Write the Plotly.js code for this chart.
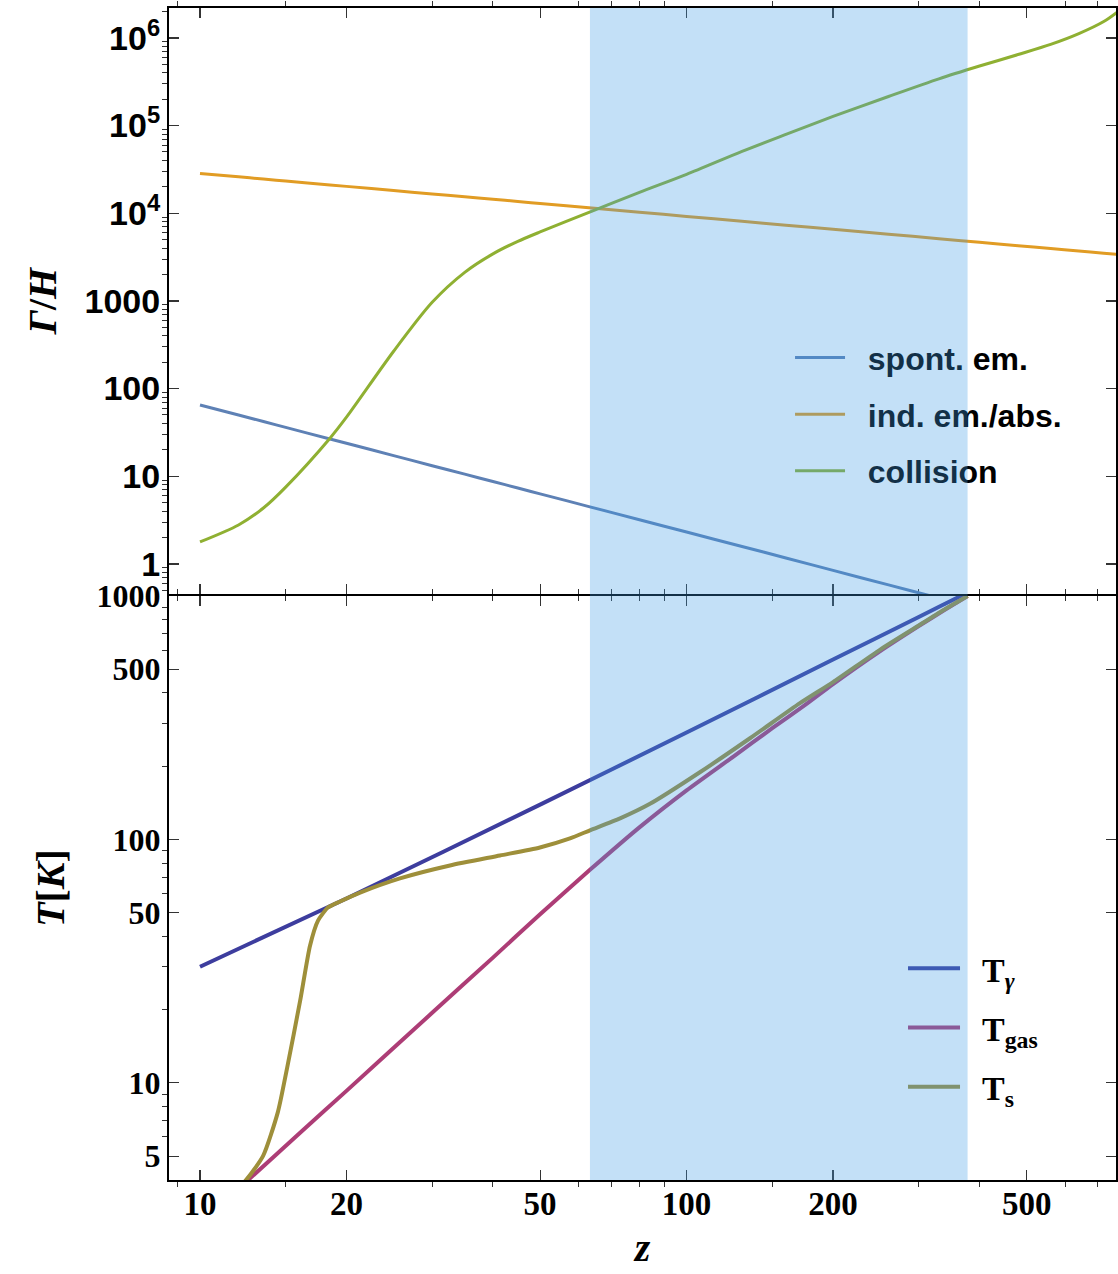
<!DOCTYPE html>
<html><head><meta charset="utf-8">
<script src="https://cdn.plot.ly/plotly-3.0.1.min.js"></script>
<style>html,body{margin:0;padding:0;background:#fff}#chart{width:1118px;height:1274px}</style>
</head><body><div id="chart"></div>
<script>
// ---- top panel: rates Gamma/H versus redshift z ----
const zTop = [10,12,13.5,15,18.5,20,25,30,35,40,45,50,63,80,100,130,160,200,260,330,400,480,560,640,720,770];
const spontEm = [65,49.9,42.1,36.1,26.6,23.8,17.2,13.2,10.57,8.71,7.34,6.30,4.51,3.19,2.31,1.58,1.17,0.844,0.577,0.408,0.309,0.237,0.190,0.156,0.132,0.119];
const indEmAbs = [28450,26000,24560,23300,21050,20250,18150,16600,15400,14430,13620,12930,11540,10270,9207,8100,7313,6555,5765,5130,4666,4268,3958,3707,3500,3386];
const collision = [1.78,2.78,4.34,7.52,27.2,47.2,266.7,964.5,2119,3443,4779,6117,10230,17290,27730,50700,79300,127000,214700,341500,477500,645700,842000,1118000,1536000,1994000];
const topNames = ['\u00a0\u00a0spont. em.','\u00a0\u00a0ind. em./abs.','\u00a0\u00a0collision'];

// ---- bottom panel: temperatures ----
const zGamma = [10,20,50,100,200,300,366,400];
const tGamma = [30.0,57.2,139,275,548,820,1000,1093];
const zGas = [10,12.49,16.06,20,30,40,50,63.3,80,100,125,150,175,200,250,300,340,378];
const tGas = [2.64,3.95,6.24,9.27,19.4,32.7,49.3,75,112.1,159.1,219.6,286.3,355.9,434.5,594,752.5,879.6,1000];
const zSpin = [10,11,12.38,13.48,14.46,15.10,16.06,16.83,17.48,18.32,19.40,21.33,25.76,32.64,41.35,49.96,57.6,63.3,73.0,84.1,106.5,135,171,200,250,300,340,378];
const tSpin = [2.7,3.2,3.95,5.01,7.6,11.5,21.7,36.6,46.4,52.5,55.6,60.5,69.2,78.2,85.9,92.7,101,109,122,140,188.7,260.4,362.8,442.8,602.5,756.2,884,1000];
const bottomNames = ['\u00a0\u00a0T<sub><i>γ</i></sub>','\u00a0\u00a0T<sub>gas</sub>','\u00a0\u00a0T<sub>s</sub>'];

// shaded redshift window
const shadeZ = [63.3, 378];

// ticks
const xTickVals = [10,20,50,100,200,500];
const xTickText = ['10','20','50','100','200','500'];
const xMinorVals = [9,15,30,40,60,70,80,90,150,300,400,600,700];
const yTopTickVals = [1,10,100,1000,1e4,1e5,1e6];
const yTopTickText = ['1','10','100','1000','10<sup>4</sup>','10<sup>5</sup>','10<sup>6</sup>'];
const yTopMinorVals = [0.5,0.6,0.7,0.8,0.9,2,3,4,5,6,7,8,9,20,30,40,50,60,70,80,90,200,300,400,500,600,700,800,900,2000,3000,4000,5000,6000,7000,8000,9000,2e4,3e4,4e4,5e4,6e4,7e4,8e4,9e4,2e5,3e5,4e5,5e5,6e5,7e5,8e5,9e5,2e6];
const yBotTickVals = [5,10,50,100,500,1000];
const yBotTickText = ['5','10','50','100','500','1000'];
const yBotMinorVals = [6,7,8,9,20,30,40,60,70,80,90,200,300,400,600,700,800,900];

const topColors = ['#5e81b5','#e19c24','#8fb032'];
const botColors = ['#3d3d9e','#ad3d76','#9e8f3a'];

const traces = [];
[spontEm, indEmAbs, collision].forEach((ys, i) => {
  traces.push({x: zTop, y: ys, xaxis:'x2', yaxis:'y2', mode:'lines', name: topNames[i],
    legend:'legend', legendgroup:'t'+i, line:{color: topColors[i], width:3, shape:'spline', smoothing:0.8}});
});
[[zGamma,tGamma],[zGas,tGas],[zSpin,tSpin]].forEach((p, i) => {
  traces.push({x: p[0], y: p[1], xaxis:'x', yaxis:'y', mode:'lines', name: bottomNames[i],
    legend:'legend2', legendgroup:'b'+i, line:{color: botColors[i], width:4, shape:'spline', smoothing:0.6}});
});

const serif = 'Liberation Serif, Times New Roman, serif';
const sans = 'Liberation Sans, Arial, sans-serif';
const serifBold = {family:serif, size:33, weight:'bold', color:'#000'};
const sansBold = {family:sans, size:34, weight:'bold', color:'#000'};
const titleFont = {family:serif, size:40, weight:'bold', color:'#000'};

const commonX = {type:'log', range:[0.9363, 2.8825], showline:true, linewidth:2, linecolor:'#000',
  mirror:'allticks', ticks:'inside', ticklen:10, tickwidth:1.2, tickcolor:'#333',
  tickmode:'array', tickvals:xTickVals, ticktext:xTickText, showgrid:false, zeroline:false,
  minor:{tickmode:'array', tickvals:xMinorVals, ticklen:5, tickwidth:1, tickcolor:'#333', showgrid:false}};

const layout = {
  width:1118, height:1274, margin:{l:169, r:2, t:8, b:94},
  paper_bgcolor:'#fff', plot_bgcolor:'rgba(0,0,0,0)', showlegend:true,
  xaxis: Object.assign({}, commonX, {anchor:'y', domain:[0,1], tickfont:serifBold, ticklabelstandoff:-7,
    title:{text:'<i>z</i>', font:titleFont, standoff:12}}),
  xaxis2: Object.assign({}, commonX, {anchor:'y2', matches:'x', showticklabels:false}),
  yaxis: {type:'log', domain:[0,0.4983], range:[0.601, 3], anchor:'x', showline:true, linewidth:2, linecolor:'#000',
    mirror:'allticks', ticks:'inside', ticklen:10, tickwidth:1.2, tickcolor:'#333', showgrid:false, zeroline:false,
    tickmode:'array', tickvals:yBotTickVals, ticktext:yBotTickText, tickfont:Object.assign({}, serifBold, {size:32}),
    ticklabelstandoff:0,
    minor:{tickmode:'array', tickvals:yBotMinorVals, ticklen:5, tickwidth:1, tickcolor:'#333', showgrid:false},
    title:{text:'<i>T</i>[<i>K</i>]', font:titleFont, standoff:20}},
  yaxis2: {type:'log', domain:[0.5,1], range:[-0.343, 6.341], anchor:'x2', showline:true, linewidth:2, linecolor:'#000',
    mirror:'allticks', ticks:'inside', ticklen:10, tickwidth:1.2, tickcolor:'#333', showgrid:false, zeroline:false,
    tickmode:'array', tickvals:yTopTickVals, ticktext:yTopTickText, tickfont:sansBold,
    ticklabelstandoff:0,
    minor:{tickmode:'array', tickvals:yTopMinorVals, ticklen:5, tickwidth:1, tickcolor:'#333', showgrid:false},
    title:{text:'<i>Γ</i>/<i>H</i>', font:titleFont, standoff:16}},
  legend: {x:0.6558, y:0.725, xanchor:'left', yanchor:'top', bgcolor:'rgba(0,0,0,0)', borderwidth:0,
    font:{family:sans, size:32, weight:'bold', color:'#000'},
    itemwidth:50, tracegroupgap:12, traceorder:'grouped'},
  legend2: {x:0.7751, y:0.205, xanchor:'left', yanchor:'top', bgcolor:'rgba(0,0,0,0)', borderwidth:0,
    font:{family:serif, size:34, weight:'bold', color:'#000'},
    itemwidth:52, tracegroupgap:12, traceorder:'grouped'},
  shapes: [{type:'rect', xref:'x', yref:'paper', x0:shadeZ[0], x1:shadeZ[1], y0:0, y1:1,
    fillcolor:'rgba(61,155,229,0.31)', line:{width:0}, layer:'above'}]
};

Plotly.newPlot('chart', traces, layout, {displayModeBar:false, staticPlot:true}).then(gd => {
  // place the translucent shade above the legends too, as in the original figure
  const svgs = gd.querySelectorAll('svg.main-svg');
  const above = gd.querySelector('g.layer-above');
  if (svgs.length > 1 && above) svgs[svgs.length - 1].appendChild(above);
});
</script>
</body></html>
